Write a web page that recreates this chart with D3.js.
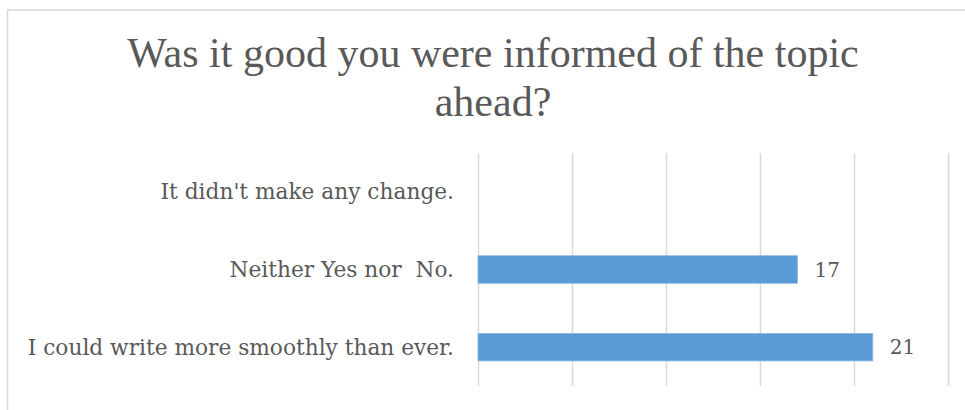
<!DOCTYPE html>
<html>
<head>
<meta charset="utf-8">
<script src="https://cdn.jsdelivr.net/npm/d3@7"></script>
<style>
  body { margin: 0; background: #fff; }
  svg text { font-family: "Liberation Serif", "DejaVu Serif", serif; fill: #595959; white-space: pre; }
  svg text.lbl { font-family: "DejaVu Serif", serif; }
</style>
</head>
<body>
<div id="chart"></div>
<script>
var titleLines = ["Was it good you were informed of the topic", "ahead?"];
var categories = ["It didn't make any change.", "Neither Yes nor  No.", "I could write more smoothly than ever."];
var values = [null, 17, 21];
var xTicks = [0, 5, 10, 15, 20, 25];

var width = 965, height = 410;
var plot = { left: 478, right: 948, top: 153, bottom: 386 };

var svg = d3.select("#chart").append("svg")
    .attr("width", width)
    .attr("height", height);

// chart frame (cut off at right and bottom)
svg.append("rect")
    .attr("x", 7.5).attr("y", 10)
    .attr("width", width + 20).attr("height", height + 20)
    .attr("fill", "none")
    .attr("stroke", "#d9d9d9")
    .attr("stroke-width", 1.5);

// title
svg.append("text")
    .attr("x", 493)
    .attr("y", 67)
    .attr("text-anchor", "middle")
    .style("font-size", "42px")
    .selectAll("tspan")
    .data(titleLines)
    .join("tspan")
    .attr("x", 493)
    .attr("dy", (d, i) => i === 0 ? 0 : 49)
    .text(d => d);

var x = d3.scaleLinear().domain([0, 25]).range([plot.left, plot.right]);
var y = d3.scaleBand()
    .domain(categories)
    .range([plot.top, plot.bottom])
    .paddingInner(0.645)
    .paddingOuter(0.3225);

// gridlines
svg.append("g")
    .attr("transform", "translate(0," + plot.bottom + ")")
    .call(d3.axisBottom(x).tickValues(xTicks).tickSize(-(plot.bottom - plot.top)).tickFormat(""))
    .call(g => g.select(".domain").remove())
    .call(g => g.selectAll(".tick line").attr("stroke", "#d9d9d9").attr("stroke-width", 1.5));

// category labels
svg.append("g")
    .selectAll("text")
    .data(categories)
    .join("text")
    .attr("class", "lbl")
    .attr("x", plot.left - 24)
    .attr("y", d => y(d) + y.bandwidth() / 2)
    .attr("dy", "0.35em")
    .attr("text-anchor", "end")
    .style("font-size", "21.7px")
    .text(d => d);

var rows = categories.map((c, i) => ({ cat: c, val: values[i] })).filter(d => d.val != null);

// bars
svg.append("g")
    .selectAll("rect")
    .data(rows)
    .join("rect")
    .attr("x", x(0))
    .attr("y", d => y(d.cat))
    .attr("width", d => x(d.val) - x(0))
    .attr("height", y.bandwidth())
    .attr("fill", "#5b9bd5")
    .attr("stroke", "#8fbbe6")
    .attr("stroke-width", 0.75);

// value labels
svg.append("g")
    .selectAll("text")
    .data(rows)
    .join("text")
    .attr("class", "lbl")
    .attr("x", d => x(d.val) + 17)
    .attr("y", d => y(d.cat) + y.bandwidth() / 2)
    .attr("dy", "0.35em")
    .style("font-size", "20px")
    .text(d => d.val);
</script>
</body>
</html>
